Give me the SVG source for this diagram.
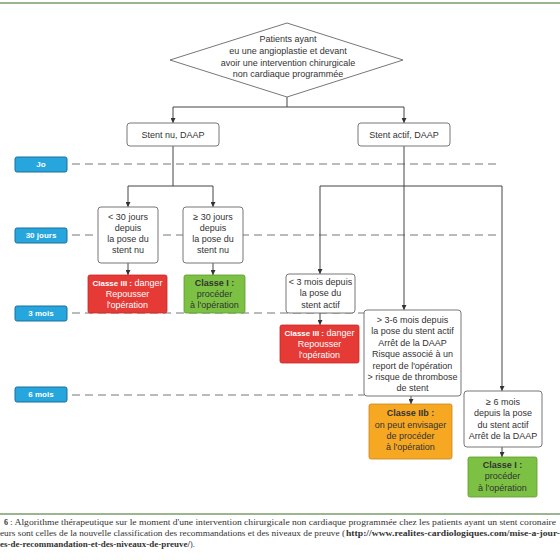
<svg xmlns="http://www.w3.org/2000/svg" width="560" height="560" viewBox="0 0 560 560">
<defs>
<marker id="ah" viewBox="0 0 6 6" refX="6" refY="3" markerWidth="5" markerHeight="5" orient="auto" markerUnits="userSpaceOnUse">
<path d="M0,0 L6,3 L0,6 z" fill="#333"/>
</marker>
<style>
.t{font-family:"Liberation Sans",Arial,sans-serif;font-size:9px;fill:#333;text-anchor:middle;dominant-baseline:central}
.w{fill:#fff}
.b{font-weight:bold}
.box{fill:#fff;stroke:#777;stroke-width:1}
.red{fill:#e53a35;stroke:#c62a25;stroke-width:0.8}
.grn{fill:#7cc143;stroke:#5c9a2c;stroke-width:0.8}
.org{fill:#f7a823;stroke:#c9861a;stroke-width:0.8}
.lbl{fill:#27a6de;stroke:#1a6f99;stroke-width:1}
.lt{font-family:"Liberation Sans",Arial,sans-serif;font-size:8px;font-weight:bold;fill:#fff;text-anchor:middle;dominant-baseline:central}
.con{fill:none;stroke:#444;stroke-width:1}
.arr{fill:none;stroke:#444;stroke-width:1;marker-end:url(#ah)}
.dash{fill:none;stroke:#777;stroke-width:1;stroke-dasharray:8 5}
.cap{font-family:"Liberation Serif","Times New Roman",serif;font-size:8px;fill:#333}
</style>
</defs>
<rect width="560" height="560" fill="#fff"/>
<line x1="0" y1="3" x2="560" y2="3" stroke="#7a9d68" stroke-width="1.5"/>
<line x1="0" y1="514" x2="560" y2="514" stroke="#7a9d68" stroke-width="1.5"/>

<g id="timeline">
<line class="dash" x1="72" y1="164" x2="497" y2="164"/>
<line class="dash" x1="72" y1="235" x2="497" y2="235"/>
<line class="dash" x1="72" y1="313" x2="364" y2="313"/>
<line class="dash" x1="72" y1="395" x2="364" y2="395"/>
</g>

<g id="connectors">
<polyline class="con" points="287,97 287,107"/>
<polyline class="con" points="173,107 404,107"/>
<line class="arr" x1="173" y1="107" x2="173" y2="123"/>
<line class="arr" x1="404" y1="107" x2="404" y2="123"/>
<polyline class="con" points="173,146 173,186"/>
<polyline class="con" points="128,186 213,186"/>
<line class="arr" x1="128" y1="186" x2="128" y2="207"/>
<line class="arr" x1="213" y1="186" x2="213" y2="207"/>
<line class="arr" x1="128" y1="263" x2="128" y2="275"/>
<line class="arr" x1="213" y1="263" x2="213" y2="275"/>
<line class="arr" x1="404" y1="146" x2="404" y2="310"/>
<polyline class="con" points="320,186 502,186"/>
<line class="arr" x1="320" y1="186" x2="320" y2="274"/>
<line class="arr" x1="502" y1="186" x2="502" y2="391"/>
<line class="arr" x1="320" y1="313" x2="320" y2="325"/>
<line class="arr" x1="411" y1="396" x2="411" y2="404"/>
<line class="arr" x1="502" y1="447" x2="502" y2="457"/>
</g>

<g id="lbl-jo"><rect class="lbl" x="15" y="157" width="52" height="15" rx="2"/><text class="lt" x="41" y="164.5">Jo</text></g>
<g id="lbl-30"><rect class="lbl" x="15" y="228" width="52" height="15" rx="2"/><text class="lt" x="41" y="235.5">30 jours</text></g>
<g id="lbl-3m"><rect class="lbl" x="15" y="306" width="52" height="15" rx="2"/><text class="lt" x="41" y="313.5">3 mois</text></g>
<g id="lbl-6m"><rect class="lbl" x="15" y="387" width="52" height="15" rx="2"/><text class="lt" x="41" y="394.5">6 mois</text></g>

<g id="start">
<polygon points="287,23 403,60 287,97 170,60" fill="#fff" stroke="#777" stroke-width="1"/>
<text class="t" x="288" y="39">Patients ayant</text>
<text class="t" x="288" y="51">eu une angioplastie et devant</text>
<text class="t" x="288" y="62.5">avoir une intervention chirurgicale</text>
<text class="t" x="288" y="73.5">non cardiaque programmée</text>
</g>

<g id="stent-nu"><rect class="box" x="127" y="123" width="92" height="23" rx="3"/><text class="t" x="173" y="134.5">Stent nu, DAAP</text></g>
<g id="stent-actif"><rect class="box" x="358" y="123" width="92" height="23" rx="3"/><text class="t" x="404" y="134.5">Stent actif, DAAP</text></g>

<g id="nu-lt30"><rect class="box" x="98" y="207" width="60" height="56" rx="3"/>
<text class="t" x="128" y="217">&lt; 30 jours</text><text class="t" x="128" y="228">depuis</text><text class="t" x="128" y="239">la pose du</text><text class="t" x="128" y="250">stent nu</text></g>
<g id="nu-ge30"><rect class="box" x="183" y="207" width="60" height="56" rx="3"/>
<text class="t" x="213" y="217">≥ 30 jours</text><text class="t" x="213" y="228">depuis</text><text class="t" x="213" y="239">la pose du</text><text class="t" x="213" y="250">stent nu</text></g>

<g id="nu-classe3"><rect class="red" x="88" y="275" width="79" height="38" rx="2"/>
<text class="t w" x="127.5" y="282.5"><tspan class="b" font-size="8">Classe III :</tspan> danger</text>
<text class="t w" x="127.5" y="293.5">Repousser</text><text class="t w" x="127.5" y="304.5">l'opération</text></g>
<g id="nu-classe1"><rect class="grn" x="184" y="275" width="61" height="38" rx="2"/>
<text class="t b" x="214.5" y="282.5" font-size="8">Classe I :</text>
<text class="t" x="214.5" y="293.5">procéder</text><text class="t" x="214.5" y="304.5">à l'opération</text></g>

<g id="actif-lt3"><rect class="box" x="286" y="274" width="69" height="39" rx="3"/>
<text class="t" x="320.5" y="282">&lt; 3 mois depuis</text><text class="t" x="320.5" y="293">la pose du</text><text class="t" x="320.5" y="304.5">stent actif</text></g>
<g id="actif-classe3"><rect class="red" x="280" y="325" width="79" height="38" rx="2"/>
<text class="t w" x="319.5" y="333"><tspan class="b" font-size="8">Classe III :</tspan> danger</text>
<text class="t w" x="319.5" y="344">Repousser</text><text class="t w" x="319.5" y="355">l'opération</text></g>

<g id="actif-3-6"><rect class="box" x="364" y="310" width="97" height="86" rx="3"/>
<text class="t" x="412.5" y="320">&gt; 3-6 mois depuis</text>
<text class="t" x="412.5" y="331">la pose du stent actif</text>
<text class="t" x="412.5" y="342.5">Arrêt de la DAAP</text>
<text class="t" x="412.5" y="354">Risque associé à un</text>
<text class="t" x="412.5" y="365.5">report de l'opération</text>
<text class="t" x="412.5" y="377">&gt; risque de thrombose</text>
<text class="t" x="412.5" y="388">de stent</text></g>
<g id="actif-classe2b"><rect class="org" x="369" y="404" width="83" height="55" rx="2"/>
<text class="t b" x="410.5" y="413" font-size="8">Classe IIb :</text>
<text class="t" x="410.5" y="424.5">on peut envisager</text>
<text class="t" x="410.5" y="436">de procéder</text>
<text class="t" x="410.5" y="447">à l'opération</text></g>

<g id="actif-ge6"><rect class="box" x="464" y="391" width="78" height="56" rx="3"/>
<text class="t" x="503" y="402">≥ 6 mois</text><text class="t" x="503" y="413">depuis la pose</text><text class="t" x="503" y="424.5">du stent actif</text><text class="t" x="503" y="435.5">Arrêt de la DAAP</text></g>
<g id="actif-classe1"><rect class="grn" x="468" y="457" width="69" height="40" rx="2"/>
<text class="t b" x="502.5" y="464.5" font-size="8">Classe I :</text>
<text class="t" x="502.5" y="476">procéder</text><text class="t" x="502.5" y="487.5">à l'opération</text></g>

<g id="caption">
<text class="cap" x="4" y="525" font-weight="bold">6</text>
<text class="cap" x="10" y="525" textLength="546" lengthAdjust="spacingAndGlyphs">: Algorithme thérapeutique sur le moment d'une intervention chirurgicale non cardiaque programmée chez les patients ayant un stent coronaire</text>
<text class="cap" x="0" y="536" textLength="345" lengthAdjust="spacingAndGlyphs">eurs sont celles de la nouvelle classification des recommandations et des niveaux de preuve (</text>
<text class="cap" x="346" y="536" font-weight="bold" textLength="214" lengthAdjust="spacingAndGlyphs">http://www.realites-cardiologiques.com/mise-a-jour-</text>
<text class="cap" x="0" y="547" font-weight="bold" textLength="190" lengthAdjust="spacingAndGlyphs">es-de-recommandation-et-des-niveaux-de-preuve/</text>
<text class="cap" x="190" y="547">).</text>
</g>
</svg>
